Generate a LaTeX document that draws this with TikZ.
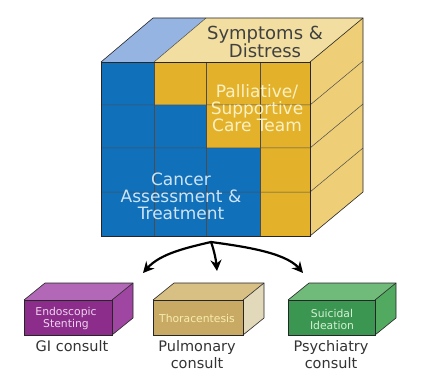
\documentclass[tikz,border=0pt]{standalone}
\usepackage{fontspec}
\setmainfont{DejaVu Sans}
\usetikzlibrary{arrows.meta}

\definecolor{cubeblue}{RGB}{16,112,186}
\definecolor{cubegold}{RGB}{227,178,42}
\definecolor{topblue}{RGB}{150,180,226}
\definecolor{toptan}{RGB}{242,222,160}
\definecolor{sidegold}{RGB}{238,206,118}
\definecolor{purplefront}{RGB}{140,45,140}
\definecolor{purpletop}{RGB}{178,104,182}
\definecolor{purpleside}{RGB}{158,70,162}
\definecolor{tanfront}{RGB}{200,170,100}
\definecolor{tantop}{RGB}{216,192,132}
\definecolor{tanside}{RGB}{226,216,186}
\definecolor{greenfront}{RGB}{58,150,80}
\definecolor{greentop}{RGB}{112,186,122}
\definecolor{greenside}{RGB}{82,170,96}

\begin{document}
\begin{tikzpicture}[x=1pt,y=-1pt,
  edge/.style={draw=black!85, line width=0.6pt},
  grid/.style={draw=black!70, line width=0.5pt},
  cubetext/.style={inner sep=0pt, align=center, font=\fontsize{17}{17}\selectfont},
  boxtext/.style={inner sep=0pt, align=center, font=\fontsize{10.8}{12}\selectfont},
  lbl/.style={inner sep=0pt, align=center, text=black!80, font=\fontsize{14.5}{17}\selectfont},
  link/.style={line width=2.2pt, -{Stealth[length=11pt,width=11pt]}}]

\useasboundingbox (0,0) rectangle (427,371);

% cube: front face
\fill[cubeblue] (101,62) rectangle (310,236);
\fill[cubegold] (154,62) -- (310,62) -- (310,236) -- (260,236) -- (260,148)
  -- (206,148) -- (206,105) -- (154,105) -- cycle;
% cube: top and side
\fill[topblue] (101,62) -- (153,18) -- (206,18) -- (154,62) -- cycle;
\fill[toptan] (154,62) -- (206,18) -- (363,18) -- (310,62) -- cycle;
\fill[sidegold] (310,62) -- (363,18) -- (363,192) -- (310,236) -- cycle;
% cube: grid
\foreach \y in {105,148,192}
  \draw[grid] (101,\y) -- (310,\y) -- (363,\y-44);
\foreach \x in {154,206,260}
  \draw[grid] (\x,62) -- (\x,236);
\draw[grid] (154,62) -- (206,18);
\draw[edge] (101,62) rectangle (310,236);
\draw[edge] (101,62) -- (153,18) -- (363,18) -- (363,192) -- (310,236);
\draw[edge] (310,62) -- (363,18);

\node[cubetext, text=black!75, font=\fontsize{18}{16}\selectfont] (sympt) at (265,42) {Symptoms \&\\Distress};
\node[cubetext, text={rgb,255:red,250;green,240;blue,195}] (palli) at (257,108) {Palliative/\\Supportive\\Care Team};
\node[cubetext, text={rgb,255:red,205;green,228;blue,246}] (cancer) at (181,196) {Cancer\\Assessment \&\\Treatment};

% consult boxes
\fill[purplefront] (24,300) rectangle (112,335);
\fill[purpletop] (24,300) -- (45,283) -- (133,283) -- (112,300) -- cycle;
\fill[purpleside] (112,300) -- (133,283) -- (133,318) -- (112,335) -- cycle;
\draw[edge] (24,300) rectangle (112,335);
\draw[edge] (24,300) -- (45,283) -- (133,283) -- (133,318) -- (112,335);
\draw[edge] (112,300) -- (133,283);

\fill[tanfront] (153,300) rectangle (243,335);
\fill[tantop] (153,300) -- (174,283) -- (264,283) -- (243,300) -- cycle;
\fill[tanside] (243,300) -- (264,283) -- (264,318) -- (243,335) -- cycle;
\draw[edge] (153,300) rectangle (243,335);
\draw[edge] (153,300) -- (174,283) -- (264,283) -- (264,318) -- (243,335);
\draw[edge] (243,300) -- (264,283);

\fill[greenfront] (288,300) rectangle (375,335);
\fill[greentop] (288,300) -- (309,283) -- (396,283) -- (375,300) -- cycle;
\fill[greenside] (375,300) -- (396,283) -- (396,318) -- (375,335) -- cycle;
\draw[edge] (288,300) rectangle (375,335);
\draw[edge] (288,300) -- (309,283) -- (396,283) -- (396,318) -- (375,335);
\draw[edge] (375,300) -- (396,283);

\node[boxtext, text={rgb,255:red,236;green,212;blue,236}] (endo) at (66,319) {Endoscopic\\Stenting};
\node[boxtext, text={rgb,255:red,246;green,236;blue,175}] (thora) at (197,318) {Thoracentesis};
\node[boxtext, text={rgb,255:red,214;green,240;blue,214}] (suic) at (332,319) {Suicidal\\Ideation};

\node[lbl] (gi) at (72,346) {GI consult};
\node[lbl] (pulm) at (197,355) {Pulmonary\\consult};
\node[lbl] (psych) at (331,355) {Psychiatry\\consult};

% arrows
\coordinate (src) at (211,242);
\coordinate (giend) at (143,273);
\coordinate (pulmend) at (217,271);
\coordinate (psychend) at (303,273);
\draw[link] (src) .. controls (185,248) and (160,254) .. (giend);
\draw[link] (src) .. controls (214,250) and (216,260) .. (pulmend);
\draw[link] (src) .. controls (240,246) and (285,252) .. (psychend);
\end{tikzpicture}
\end{document}
